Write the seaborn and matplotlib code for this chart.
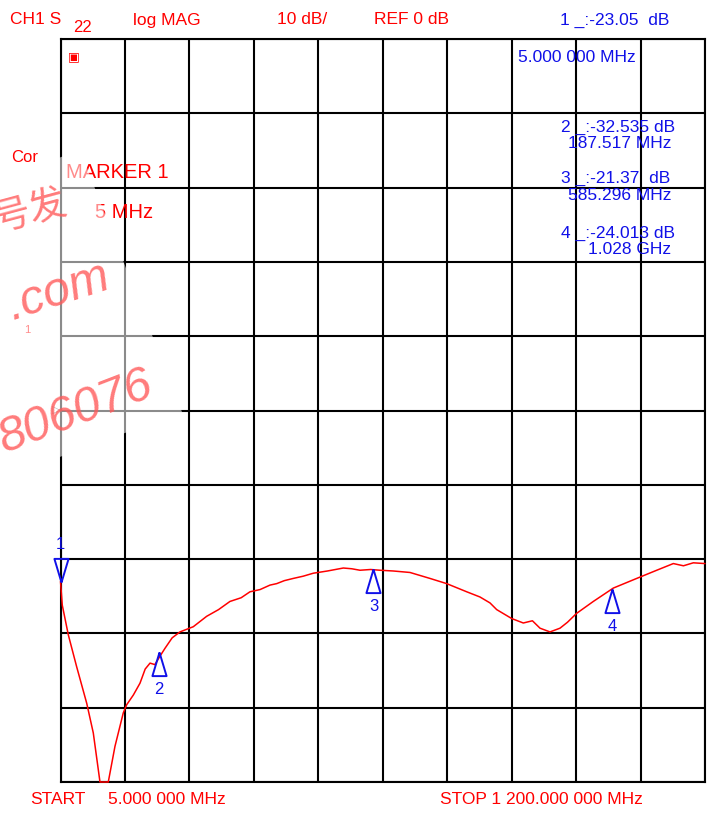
import matplotlib
matplotlib.use('Agg')
from matplotlib import pyplot as plt
from matplotlib.patches import Polygon
import numpy as np
import pandas as pd
import seaborn as sns

# trace (MHz, dB)
freq_mhz = [5, 8.3, 19.5, 35, 53.6, 65.8, 78.2, 93.6, 106, 121.4, 127.7, 140, 152.4, 162, 171,
            180, 190, 198.8, 212, 226.5, 251.2, 276, 298, 319.2, 340, 356.3, 375, 393.4, 405.9,
            420, 436.7, 455, 473.7, 500, 529.4, 545, 560.3, 580, 597.4, 622, 653, 690, 721,
            758.2, 782.8, 801.4, 813.8, 841.6, 863.1, 880, 894.1, 912.6, 931.1, 945, 962,
            992.9, 1030, 1073.4, 1110.5, 1141.3, 1160, 1178.3, 1200]
s22_db = [-23.0, -26.2, -30.2, -34.5, -39.4, -43.4, -50.0, -50.0, -45.2, -40.7, -39.6, -38.3,
          -36.7, -34.8, -34.0, -34.2, -33.0, -32.0, -30.6, -29.8, -29.1, -27.7, -26.8, -25.7,
          -25.2, -24.4, -24.1, -23.5, -23.3, -22.9, -22.6, -22.3, -21.9, -21.6, -21.2, -21.3,
          -21.5, -21.4, -21.5, -21.6, -21.8, -22.6, -23.3, -24.4, -25.1, -25.9, -26.8, -28.0,
          -28.6, -28.3, -29.3, -29.8, -29.3, -28.5, -27.3, -25.7, -23.9, -22.6, -21.5, -20.6,
          -20.9, -20.5, -20.6]

marker_ids = ['1', '2', '3', '4']
marker_freq = [5.0, 187.517, 585.296, 1028.0]
marker_db = [-23.05, -32.535, -21.37, -24.013]
marker_readout = ['1 _:-23.05  dB', '2 _:-32.535 dB', '3 _:-21.37  dB', '4 _:-24.013 dB']
marker_freq_text = ['5.000 000 MHz', '187.517 MHz', '585.296 MHz', '1.028 GHz']

start_mhz, stop_mhz = 5.0, 1200.0
ref_db, scale_db = 0, 10

sns.set_style('white')
plt.rcParams['font.family'] = ['Liberation Sans', 'DejaVu Sans']

W, H = 708, 815
fig = plt.figure(figsize=(W / 100, H / 100), dpi=100)


def fx(px):
    return px / W


def fy(py):
    return 1 - py / H


ax = fig.add_axes([fx(60.5), fy(782), fx(705) - fx(60.5), fy(39) - fy(782)])

trace = pd.DataFrame({'freq': freq_mhz, 'db': s22_db})
sns.lineplot(data=trace, x='freq', y='db', color='#ff0000', lw=1.1, ax=ax, zorder=4)
ax.lines[0].set_clip_on(False)

ax.set_xlim(start_mhz, stop_mhz)
ax.set_ylim(ref_db - 5 * scale_db, ref_db + 5 * scale_db)
ax.set_xticks(np.linspace(start_mhz, stop_mhz, 11))
ax.set_yticks(np.arange(-50, 51, scale_db))
ax.grid(True, color='black', lw=1.5)
ax.tick_params(length=0, labelbottom=False, labelleft=False)
ax.set_xlabel('')
ax.set_ylabel('')
for sp in ax.spines.values():
    sp.set_color('black')
    sp.set_linewidth(1.5)

# marker triangles, anchored at the tip
tri_up = [(0, 0), (-0.3, -1), (0.3, -1), (0, 0)]
tri_down = [(0, 0), (-0.3, 1), (0.3, 1), (0, 0)]
for mid, f, d in zip(marker_ids, marker_freq, marker_db):
    up = mid != '1'
    ax.plot([f], [d], marker=tri_up if up else tri_down, ms=34, mfc='none', mec='#1010e8',
            mew=1.4, ls='none', clip_on=False, zorder=5)
    ax.annotate(mid, (f, d), xytext=(0, -27 if up else 27), textcoords='offset points',
                ha='center', va='center', color='#1010e8', fontsize=12, zorder=5)

red = '#ff0000'
blue = '#1010e8'
# header line
fig.text(fx(10), fy(20), 'CH1 S', color=red, fontsize=12.5, va='center')
fig.text(fx(73), fy(27), '22', color=red, fontsize=12, va='center')
fig.text(fx(133), fy(20), 'log MAG', color=red, fontsize=12.5, va='center')
fig.text(fx(277), fy(20), '10 dB/', color=red, fontsize=12.5, va='center')
fig.text(fx(374), fy(20), 'REF 0 dB', color=red, fontsize=12.5, va='center')
fig.text(fx(560), fy(20), marker_readout[0], color=blue, fontsize=12.5, va='center')
fig.text(fx(518), fy(58), marker_freq_text[0], color=blue, fontsize=12.5, va='center')

# marker readouts 2..4
for txt, ftxt, y0 in zip(marker_readout[1:], marker_freq_text[1:], [127, 178, 233]):
    fig.text(fx(561), fy(y0), txt, color=blue, fontsize=12.5, va='center')
    fig.text(fx(671), fy(y0 + 17), ftxt, color=blue, fontsize=12.5, va='center', ha='right')

fig.text(fx(74), fy(57), '▣', color=red, fontsize=9, va='center', ha='center',
         family='DejaVu Sans')
fig.text(fx(11), fy(157), 'Cor', color=red, fontsize=12, va='center')
fig.text(fx(66), fy(172), 'MARKER 1', color=red, fontsize=14.5, va='center')
fig.text(fx(95), fy(213), '5 MHz', color=red, fontsize=14.5, va='center')
fig.text(fx(27), fy(330), '1', color=red, fontsize=8, va='center', ha='center')
fig.text(fx(56), fy(410), '▷', color='#555555', fontsize=8, va='center', ha='center',
         family='DejaVu Sans')

# footer
fig.text(fx(30), fy(800), 'START', color=red, fontsize=12.5, va='center')
fig.text(fx(108), fy(800), '5.000 000 MHz', color=red, fontsize=12.5, va='center')
fig.text(fx(440), fy(800), 'STOP 1 200.000 000 MHz', color=red, fontsize=12.5, va='center')

# watermark: light box + pink handwritten-ish text
veil = Polygon([(fx(-30), fy(191)), (fx(80), fy(150)), (fx(182), fy(412)), (fx(-30), fy(490))],
               closed=True, transform=fig.transFigure, facecolor='white', edgecolor='none',
               alpha=0.55, zorder=5)
fig.patches.append(veil)
wm = '#ff5a5a'
fig.text(fx(30), fy(212), '号发', color=wm, fontsize=27, rotation=15, va='center',
         ha='center', family=['Noto Sans CJK SC', 'DejaVu Sans'], alpha=0.8, zorder=6)
fig.text(fx(58), fy(292), '.com', color=wm, fontsize=35, rotation=18, va='center',
         ha='center', style='italic', alpha=0.8, zorder=6)
fig.text(fx(76), fy(412), '806076', color=wm, fontsize=35, rotation=21, va='center',
         ha='center', style='italic', alpha=0.8, zorder=6)

fig.savefig('out.png', dpi=100)
